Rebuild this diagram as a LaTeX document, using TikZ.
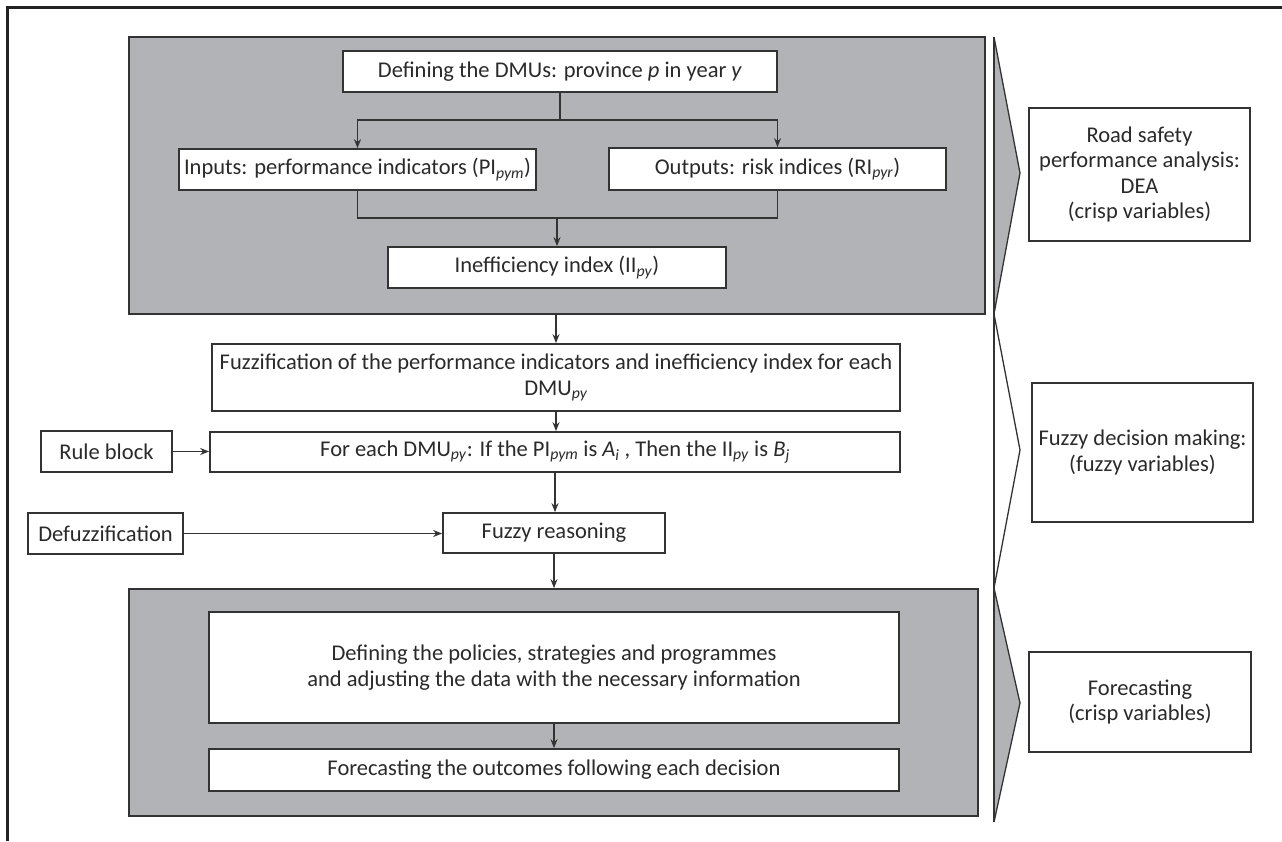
\documentclass[tikz,border=0pt]{standalone}
\usepackage{fontspec}
\setmainfont{Carlito}
\usetikzlibrary{arrows.meta}
\definecolor{panel}{HTML}{B2B3B6}
\definecolor{edge}{HTML}{333333}
\definecolor{frame}{HTML}{222222}
\definecolor{txt}{HTML}{2A2A2A}
\newcommand{\sub}[1]{\textsubscript{\textit{#1}}}
\begin{document}
\begin{tikzpicture}[x=1pt,y=-1pt,
  box/.style={draw=edge, line width=1.7pt, fill=white, inner sep=2pt, align=center, text=txt, font=\fontsize{22.5}{25.5}\selectfont},
  graybox/.style={draw=edge, line width=1.7pt, fill=panel, inner sep=0pt},
  conn/.style={draw=edge, line width=1.5pt, -{Stealth[length=9pt,width=7pt]}},
  plain/.style={draw=edge, line width=1.5pt}]
\useasboundingbox (0,0) rectangle (1282,841);
\draw[line width=3pt, draw=frame] (1282,7) -- (7,7) -- (7,841);

% panels
\node[graybox, minimum width=856pt, minimum height=277pt] (topgray) at (557,175.5) {};
\node[graybox, minimum width=849pt, minimum height=227pt] (botgray) at (553.5,702.5) {};

% boxes
\node[box, minimum width=434pt, minimum height=41pt] (dmu) at (560,71.5) {Defining the DMUs: province \textit{p} in year \textit{y}};
\node[box, minimum width=357pt, minimum height=41pt] (inputs) at (357.5,169.5) {Inputs: performance indicators (PI\sub{pym})};
\node[box, minimum width=337pt, minimum height=42pt] (outputs) at (777.5,169) {Outputs: risk indices (RI\sub{pyr})};
\node[box, minimum width=338pt, minimum height=41pt] (inef) at (557,267.5) {Inefficiency index (II\sub{py})};
\node[box, minimum width=688pt, minimum height=67pt] (fuzz) at (556,377.5) {Fuzzification of the performance indicators and inefficiency index for each\\DMU\sub{py}};
\node[box, minimum width=690pt, minimum height=40pt] (foreach) at (555,452) {For each DMU\sub{py}: If the PI\sub{pym} is \textit{A\textsubscript{i}} , Then the II\sub{py} is \textit{B\textsubscript{j}}};
\node[box, minimum width=131pt, minimum height=41pt] (rule) at (106.5,451.5) {Rule block};
\node[box, minimum width=222pt, minimum height=40pt] (fuzzyr) at (554,533) {Fuzzy reasoning};
\node[box, minimum width=155pt, minimum height=41pt] (defuzz) at (105.5,533.5) {Defuzzification};
\node[box, minimum width=690pt, minimum height=111pt] (policies) at (554,667.5) {Defining the policies, strategies and programmes\\and adjusting the data with the necessary information};
\node[box, minimum width=690pt, minimum height=42pt] (outcomes) at (554,770) {Forecasting the outcomes following each decision};

% right side labels
\node[box, minimum width=221pt, minimum height=133pt] (road) at (1139.5,174.5) {Road safety\\performance analysis:\\DEA\\(crisp variables)};
\node[box, minimum width=221pt, minimum height=139pt] (fdm) at (1142.5,452.5) {Fuzzy decision making:\\(fuzzy variables)};
\node[box, minimum width=222pt, minimum height=100pt] (fore) at (1140,702) {Forecasting\\(crisp variables)};

% brackets
\fill[panel] (994,37) -- (1020,173) -- (994,314) -- cycle;
\fill[panel] (994,588) -- (1020,703) -- (994,822) -- cycle;
\draw[draw=edge, line width=1.3pt] (994,37) -- (994,822);
\draw[draw=edge, line width=1.3pt, line join=miter] (994,37) -- (1020,173) -- (994,314) -- (1020,450) -- (994,588) -- (1020,703) -- (994,822);

% connectors
\coordinate (split) at (560,120);
\coordinate (merge) at (557,218);
\draw[plain] (dmu.south) -- (split);
\draw[conn] (split) -| (inputs.north);
\draw[conn] (split) -| (outputs.north);
\draw[plain] (inputs.south) |- (merge) -| (outputs.south);
\draw[conn] (merge) -- (inef.north);
\draw[conn] (fuzz.north |- topgray.south) -- (fuzz.north);
\draw[conn] (fuzz.south) -- (fuzz.south |- foreach.north);
\draw[conn] (rule.east) -- (rule.east -| foreach.west);
\draw[conn] (foreach.south) -- (foreach.south |- fuzzyr.north);
\draw[conn] (defuzz.east) -- (defuzz.east -| fuzzyr.west);
\draw[conn] (fuzzyr.south) -- (fuzzyr.south |- botgray.north);
\draw[conn] (policies.south) -- (outcomes.north);
\end{tikzpicture}
\end{document}
